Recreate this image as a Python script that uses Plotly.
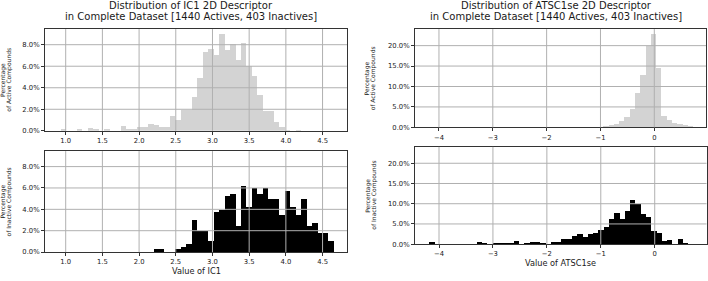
import plotly.graph_objects as go

# ---------------- data (percentages per histogram bin) ----------------
ic1_bin_start = 0.93
ic1_bin_width = 0.0745
ic1_active_pct = [
    0.15, 0.0, 0.0, 0.2, 0.0, 0.25, 0.2, 0.0, 0.2, 0.0,
    0.0, 0.45, 0.15, 0.15, 0.4, 0.4, 0.65, 0.5, 0.35, 0.4,
    1.38, 1.0, 1.94, 1.94, 3.1, 4.9, 7.3, 7.6, 7.0, 9.0,
    7.5, 8.1, 6.6, 8.15, 6.0, 5.1, 3.3, 1.8, 1.8, 0.78,
    0.34, 0.1, 0.0, 0.1, 0.0, 0.0, 0.0, 0.0, 0.0, 0.0,
]
ic1_inactive_pct = [
    0.0, 0.0, 0.0, 0.0, 0.0, 0.0, 0.0, 0.0, 0.0, 0.0,
    0.0, 0.0, 0.0, 0.0, 0.0, 0.0, 0.0, 0.25, 0.25, 0.0,
    0.0, 0.25, 0.5, 0.74, 2.98, 1.99, 1.99, 0.99, 3.72, 3.97,
    5.21, 5.46, 2.48, 6.2, 4.22, 5.96, 5.46, 5.96, 4.96, 4.96,
    3.47, 5.71, 4.22, 3.47, 4.96, 2.48, 2.73, 1.74, 1.74, 0.99,
]
atsc_bin_start = -4.18
atsc_bin_width = 0.098
atsc_active_pct = [
    0.0, 0.0, 0.0, 0.0, 0.0, 0.0, 0.0, 0.0, 0.0, 0.0,
    0.0, 0.0, 0.0, 0.0, 0.0, 0.0, 0.0, 0.0, 0.0, 0.0,
    0.0, 0.0, 0.0, 0.0, 0.0, 0.07, 0.0, 0.0, 0.07, 0.14,
    0.07, 0.14, 0.2, 0.25, 0.55, 0.9, 1.5, 2.5, 4.5, 8.5,
    12.7, 20.0, 22.8, 14.5, 2.75, 1.7, 1.0, 0.85, 0.55, 0.4,
]
atsc_inactive_pct = [
    0.5, 0.0, 0.0, 0.0, 0.0, 0.0, 0.0, 0.0, 0.0, 0.5,
    0.25, 0.0, 0.25, 0.25, 0.25, 0.25, 0.74, 0.0, 0.25, 0.5,
    0.5, 0.25, 0.0, 0.5, 0.5, 1.24, 1.24, 1.99, 2.48, 1.74,
    2.48, 2.73, 3.47, 4.22, 6.2, 7.69, 6.2, 8.19, 10.92, 9.93,
    7.44, 6.7, 3.23, 2.73, 0.74, 0.99, 0.0, 1.24, 0.25, 0.0,
]

ic1_xticks = [1.0, 1.5, 2.0, 2.5, 3.0, 3.5, 4.0, 4.5]
atsc_xticks = [-4, -3, -2, -1, 0]
ic1_yticks = [0, 2, 4, 6, 8]
atsc_yticks = [0, 5, 10, 15, 20]

title_line1 = ["Distribution of IC1 2D Descriptor", "Distribution of ATSC1se 2D Descriptor"]
title_line2 = "in Complete Dataset [1440 Actives, 403 Inactives]"
xlabels = ["Value of IC1", "Value of ATSC1se"]

# ---------------- figure ----------------
W, H = 708, 281
FONT = "DejaVu Sans"
TXT = "#1a1a1a"
GRID = "#b0b0b0"
ACTIVE = "#d3d3d3"
INACTIVE = "#000000"


def px(x):
    return x / W


def py(y):
    return 1 - y / H


fig = go.Figure()


def add_hist(values, start, width, color, n):
    centers = [start + width * (i + 0.5) for i in range(len(values))]
    fig.add_trace(go.Bar(
        x=centers, y=values, width=[width] * len(values),
        marker=dict(color=color, line=dict(width=0)),
        xaxis="x" + ("" if n == 1 else str(n)),
        yaxis="y" + ("" if n == 1 else str(n)),
        showlegend=False, hoverinfo="skip",
    ))


add_hist(ic1_active_pct, ic1_bin_start, ic1_bin_width, ACTIVE, 1)
add_hist(ic1_inactive_pct, ic1_bin_start, ic1_bin_width, INACTIVE, 2)
add_hist(atsc_active_pct, atsc_bin_start, atsc_bin_width, ACTIVE, 3)
add_hist(atsc_inactive_pct, atsc_bin_start, atsc_bin_width, INACTIVE, 4)

# panel frames in pixels: (left, right, top, bottom)
panels = {
    1: (45, 347, 29.5, 132.7),
    2: (45, 347, 153.3, 255.7),
    3: (415, 706, 29.5, 129.2),
    4: (415, 706.5, 149, 247.7),
}
xranges = {1: [0.718, 4.833], 2: [0.718, 4.833], 3: [-4.445, 0.96], 4: [-4.445, 0.96]}
yranges = {1: [0, 9.45], 2: [0, 9.45], 3: [0, 24.05], 4: [0, 24.05]}
xticks = {1: ic1_xticks, 2: ic1_xticks, 3: atsc_xticks, 4: atsc_xticks}
yticks = {1: ic1_yticks, 2: ic1_yticks, 3: atsc_yticks, 4: atsc_yticks}


def fmt_x(v):
    if isinstance(v, float):
        s = f"{v:.1f}"
    else:
        s = f"{v:d}"
    return s.replace("-", "\u2212")


layout = dict(
    width=W, height=H, margin=dict(l=0, r=0, t=0, b=0),
    paper_bgcolor="white", plot_bgcolor="white",
    barmode="overlay", bargap=0,
    font=dict(family=FONT, color=TXT, size=7),
)
shapes = []
for n, (l, r, t, b) in panels.items():
    sx = "" if n == 1 else str(n)
    layout["xaxis" + sx] = dict(
        domain=[px(l), px(r)], range=xranges[n], anchor="y" + sx,
        tickvals=xticks[n], ticktext=[fmt_x(v) for v in xticks[n]],
        showgrid=False, zeroline=False, showline=True, mirror=True,
        linecolor="#333333", linewidth=1, ticks="outside", ticklen=3,
        tickwidth=1, tickcolor="#333333", tickfont=dict(size=6.8, family=FONT, color=TXT),
        fixedrange=True,
    )
    layout["yaxis" + sx] = dict(
        domain=[py(b), py(t)], range=yranges[n], anchor="x" + sx,
        tickvals=yticks[n], ticktext=[f"{v:.1f}%" for v in yticks[n]],
        showgrid=False, zeroline=False, showline=True, mirror=True,
        linecolor="#333333", linewidth=1, ticks="outside", ticklen=3,
        tickwidth=1, tickcolor="#333333", tickfont=dict(size=6.8, family=FONT, color=TXT),
        fixedrange=True,
    )
    for v in xticks[n]:
        shapes.append(dict(type="line", xref="x" + sx, yref="y" + sx + " domain",
                           x0=v, x1=v, y0=0, y1=1, layer="above",
                           line=dict(color=GRID, width=1)))
    for v in yticks[n][1:]:
        shapes.append(dict(type="line", xref="x" + sx + " domain", yref="y" + sx,
                           x0=0, x1=1, y0=v, y1=v, layer="above",
                           line=dict(color=GRID, width=1)))

annotations = []
# titles
for cx, line1 in zip([191, 556], title_line1):
    annotations.append(dict(text=line1, x=px(cx), y=py(5.8), xref="paper", yref="paper",
                            xanchor="center", yanchor="middle", showarrow=False,
                            font=dict(size=10, family=FONT, color=TXT)))
    annotations.append(dict(text=title_line2, x=px(cx), y=py(17.0), xref="paper", yref="paper",
                            xanchor="center", yanchor="middle", showarrow=False,
                            font=dict(size=10, family=FONT, color=TXT)))
# x labels
annotations.append(dict(text=xlabels[0], x=px(196.5), y=py(275), xref="paper", yref="paper",
                        xanchor="center", yanchor="middle", showarrow=False,
                        font=dict(size=8.2, family=FONT, color=TXT)))
annotations.append(dict(text=xlabels[1], x=px(560.7), y=py(266.7), xref="paper", yref="paper",
                        xanchor="center", yanchor="middle", showarrow=False,
                        font=dict(size=8.2, family=FONT, color=TXT)))
# y labels
ylab = {
    1: ("Percentage", "of Active Compounds", 3.0, 8.8),
    2: ("Percentage", "of Inactive Compounds", 3.0, 8.8),
    3: ("Percentage", "of Active Compounds", 367.3, 373.1),
    4: ("Percentage", "of Inactive Compounds", 367.3, 373.1),
}
for n, (a, bb, x1, x2) in ylab.items():
    l, r, t, b = panels[n]
    cy = (t + b) / 2
    for txt, xx in ((a, x1), (bb, x2)):
        annotations.append(dict(text=txt, x=px(xx), y=py(cy), xref="paper", yref="paper",
                                xanchor="center", yanchor="middle", showarrow=False,
                                textangle=-90, font=dict(size=6, family=FONT, color=TXT)))

layout["shapes"] = shapes
layout["annotations"] = annotations
fig.update_layout(**layout)
fig.write_html(
    "out.html",
    config={"displayModeBar": False, "staticPlot": True},
    post_script="document.body.style.margin='0px';document.body.style.overflow='hidden';",
)
